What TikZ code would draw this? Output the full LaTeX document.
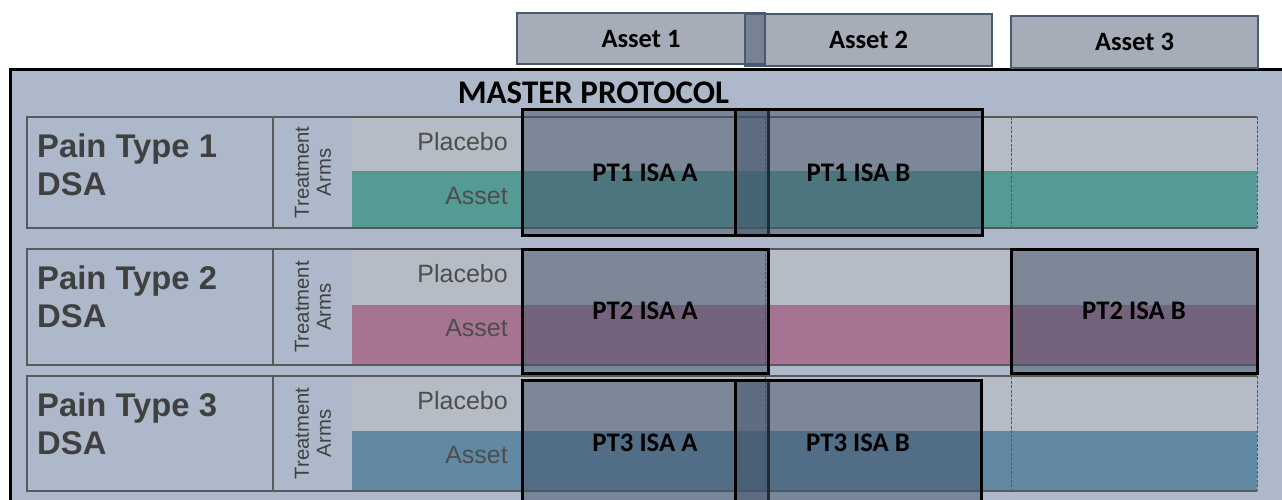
\documentclass[tikz,border=0pt]{standalone}
\usepackage{fontspec}
\setmainfont{Carlito}
\newfontfamily\arialfont{Liberation Sans}
\definecolor{bgc}{HTML}{ADB9CA}
\definecolor{placc}{HTML}{B6BCC5}
\definecolor{tealc}{HTML}{559A94}
\definecolor{mauvec}{HTML}{A77392}
\definecolor{steelc}{HTML}{6289A3}
\definecolor{linec}{HTML}{595959}
\definecolor{overc}{HTML}{44546A}
\definecolor{assetedge}{HTML}{4A5A70}
\definecolor{textc}{HTML}{404040}
\definecolor{armtext}{HTML}{4D4D4D}
\begin{document}
\begin{tikzpicture}[x=1pt,y=-1pt,
  assetbox/.style={draw=assetedge, line width=2pt, fill=overc, fill opacity=0.48,
    text opacity=1, inner sep=0pt, font=\fontsize{26.5}{30}\selectfont\bfseries},
  isabox/.style={draw=black, line width=3pt, fill=overc, fill opacity=0.5,
    text opacity=1, inner sep=0pt, font=\fontsize{26.8}{30}\selectfont\bfseries},
  rowline/.style={draw=linec, line width=2.2pt},
  divline/.style={draw=gray, line width=1pt},
  dashline/.style={draw=linec, line width=0.8pt, dash pattern=on 3pt off 1.5pt},
  paintext/.style={anchor=west, align=left, text=textc, inner sep=0pt,
    font=\arialfont\bfseries\fontsize{32.8}{38}\selectfont},
  armslabel/.style={rotate=90, align=center, text=textc, inner sep=0pt,
    font=\arialfont\fontsize{20.3}{22}\selectfont},
  bandtext/.style={anchor=base east, text=armtext, inner sep=0pt,
    font=\arialfont\fontsize{25}{28}\selectfont}
]
\useasboundingbox (0,0) rectangle (1282,500);
\clip (0,0) rectangle (1282,500);

% master protocol frame
\path[fill=bgc, draw=black, line width=3pt] (10.5,69.5) rectangle (1300,520);
\node[anchor=base, inner sep=0pt, font=\fontsize{33}{38}\selectfont\bfseries] (master) at (593.5,103.5) {MASTER PROTOCOL};

% rows
\foreach \n/\t/\m/\b/\c in {1/117/171/228/tealc, 2/249/305/365/mauvec, 3/376/431/491/steelc}{
  \fill[placc] (352,\t) rectangle (1257,\m);
  \fill[\c] (352,\m) rectangle (1257,\b);
  \draw[divline] (352,\m) -- (1257,\m);
  \draw[dashline] (765,\t) -- (765,\b);
  \draw[dashline] (1011,\t) -- (1011,\b);
  \draw[dashline] (1257,\t) -- (1257,\b);
  \draw[rowline] (1257,\t) -- (27,\t) -- (27,\b) -- (1257,\b);
  \draw[rowline] (273,\t) -- (273,\b);
  \node[paintext] (pt\n) at (37,\t+47.5) {Pain Type \n\\DSA};
  \node[armslabel] (arms\n) at (313,{(\t+\b)/2}) {Treatment\\Arms};
  \node[bandtext] (plac\n) at (508,\t+33) {Placebo};
  \node[bandtext] (asset\n) at (508,\t+87.5) {Asset};
}

% ISA overlays
\node[isabox, minimum width=246pt, minimum height=125pt] (isa1a) at (645,172.5) {PT1 ISA A};
\node[isabox, minimum width=247pt, minimum height=125pt] (isa1b) at (858.5,172.5) {PT1 ISA B};
\node[isabox, minimum width=246pt, minimum height=124pt] (isa2a) at (645,311) {PT2 ISA A};
\node[isabox, minimum width=246pt, minimum height=124pt] (isa2b) at (1134,311) {PT2 ISA B};
\node[isabox, minimum width=246pt, minimum height=126pt] (isa3a) at (645,443) {PT3 ISA A};
\node[isabox, minimum width=246pt, minimum height=126pt] (isa3b) at (858,443) {PT3 ISA B};

% asset headers
\node[assetbox, minimum width=248pt, minimum height=51pt] (a1) at (641,38.5) {Asset 1};
\node[assetbox, minimum width=247pt, minimum height=52pt] (a2) at (868.5,40) {Asset 2};
\node[assetbox, minimum width=247pt, minimum height=52pt] (a3) at (1134.5,42) {Asset 3};
\end{tikzpicture}
\end{document}
